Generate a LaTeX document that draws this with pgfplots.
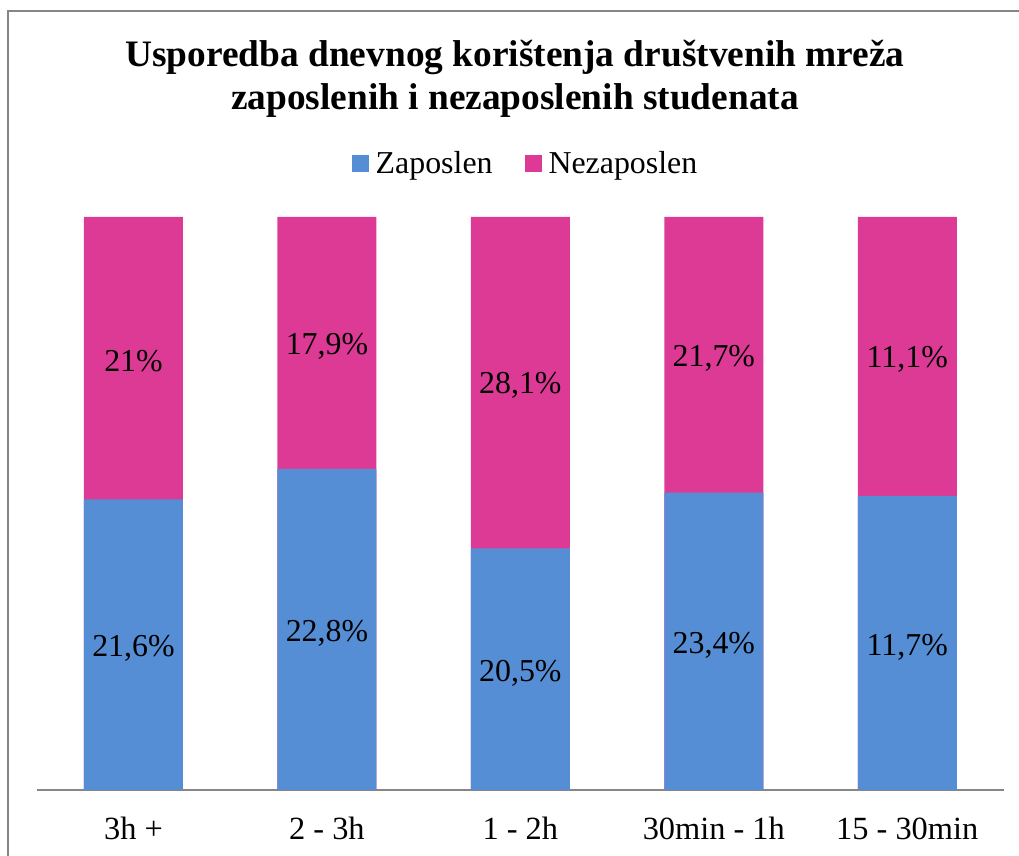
\documentclass[border=0pt]{standalone}
\usepackage{pgfplots}
\pgfplotsset{compat=1.18}
\usepackage{pgfplotstable}
\usepackage{fontspec}
\setmainfont{Liberation Serif}
\definecolor{zblue}{RGB}{85,142,213}
\definecolor{npink}{RGB}{221,58,150}
\definecolor{axgray}{RGB}{134,134,134}
% zs = share of Zaposlen in the 100% bar, zc/nc = label centres
\pgfplotstableread{
x top zs zc zl nc nl
0 1 0.5070 0.2535 21,6 0.7535 21
1 1 0.5602 0.2801 22,8 0.7801 17,9
2 1 0.4218 0.2109 20,5 0.7109 28,1
3 1 0.5188 0.2594 23,4 0.7594 21,7
4 1 0.5132 0.2566 11,7 0.7566 11,1
}\datatable
\begin{document}
\begin{tikzpicture}[x=1bp,y=1bp]
\useasboundingbox (0,0) rectangle (1019,856);
\draw[axgray, line width=1.5bp] (8,0) -- (8,845) -- (1019,845);
\node[font=\fontsize{37.5}{43}\selectfont\bfseries, align=center] at (515,777) {Usporedba dnevnog korištenja društvenih mreža\\zaposlenih i nezaposlenih studenata};
\begin{axis}[
  at={(36.75bp,66bp)}, anchor=south west, scale only axis,
  width=967.25bp, height=573bp,
  xmin=-0.5, xmax=4.5, ymin=0, ymax=1,
  axis x line*=bottom, axis y line=none,
  x axis line style={axgray, line width=1.5bp, -},
  xtick={0,...,4},
  xticklabels={3h +, 2 - 3h, 1 - 2h, 30min - 1h, 15 - 30min},
  major tick length=0,
  xticklabel style={font=\fontsize{32.5}{36}\selectfont, anchor=base, yshift=-50bp},
  clip=false,
  legend style={at={(0.5053,1.0942)}, anchor=center, draw=none, fill=none,
    legend columns=-1, font=\fontsize{32}{36}\selectfont,
    /tikz/every even column/.append style={column sep=30bp},
    inner sep=0pt},
  legend image code/.code={\fill[#1, draw=none] (0bp,-8.5bp) rectangle (17bp,8.5bp); \path (22bp,0bp);},
]
\addplot[ybar, bar width=99bp, bar shift=0pt, fill=npink, draw=none, forget plot] table[x=x, y=top] {\datatable};
\addplot[ybar, bar width=99bp, bar shift=0pt, fill=zblue, draw=none, forget plot] table[x=x, y=zs] {\datatable};
\addplot[draw=none, mark=none, forget plot, nodes near coords={\pgfplotspointmeta\%},
  nodes near coords align=center, point meta=explicit symbolic,
  every node near coord/.append style={font=\fontsize{32}{36}\selectfont, anchor=center, yshift=-4bp}]
  table[x=x, y=zc, meta=zl] {\datatable};
\addplot[draw=none, mark=none, forget plot, nodes near coords={\pgfplotspointmeta\%},
  nodes near coords align=center, point meta=explicit symbolic,
  every node near coord/.append style={font=\fontsize{32}{36}\selectfont, anchor=center, yshift=-3bp}]
  table[x=x, y=nc, meta=nl] {\datatable};
\addlegendimage{fill=zblue, draw=none}
\addlegendentry{Zaposlen}
\addlegendimage{fill=npink, draw=none}
\addlegendentry{Nezaposlen}
\end{axis}
\end{tikzpicture}
\end{document}
